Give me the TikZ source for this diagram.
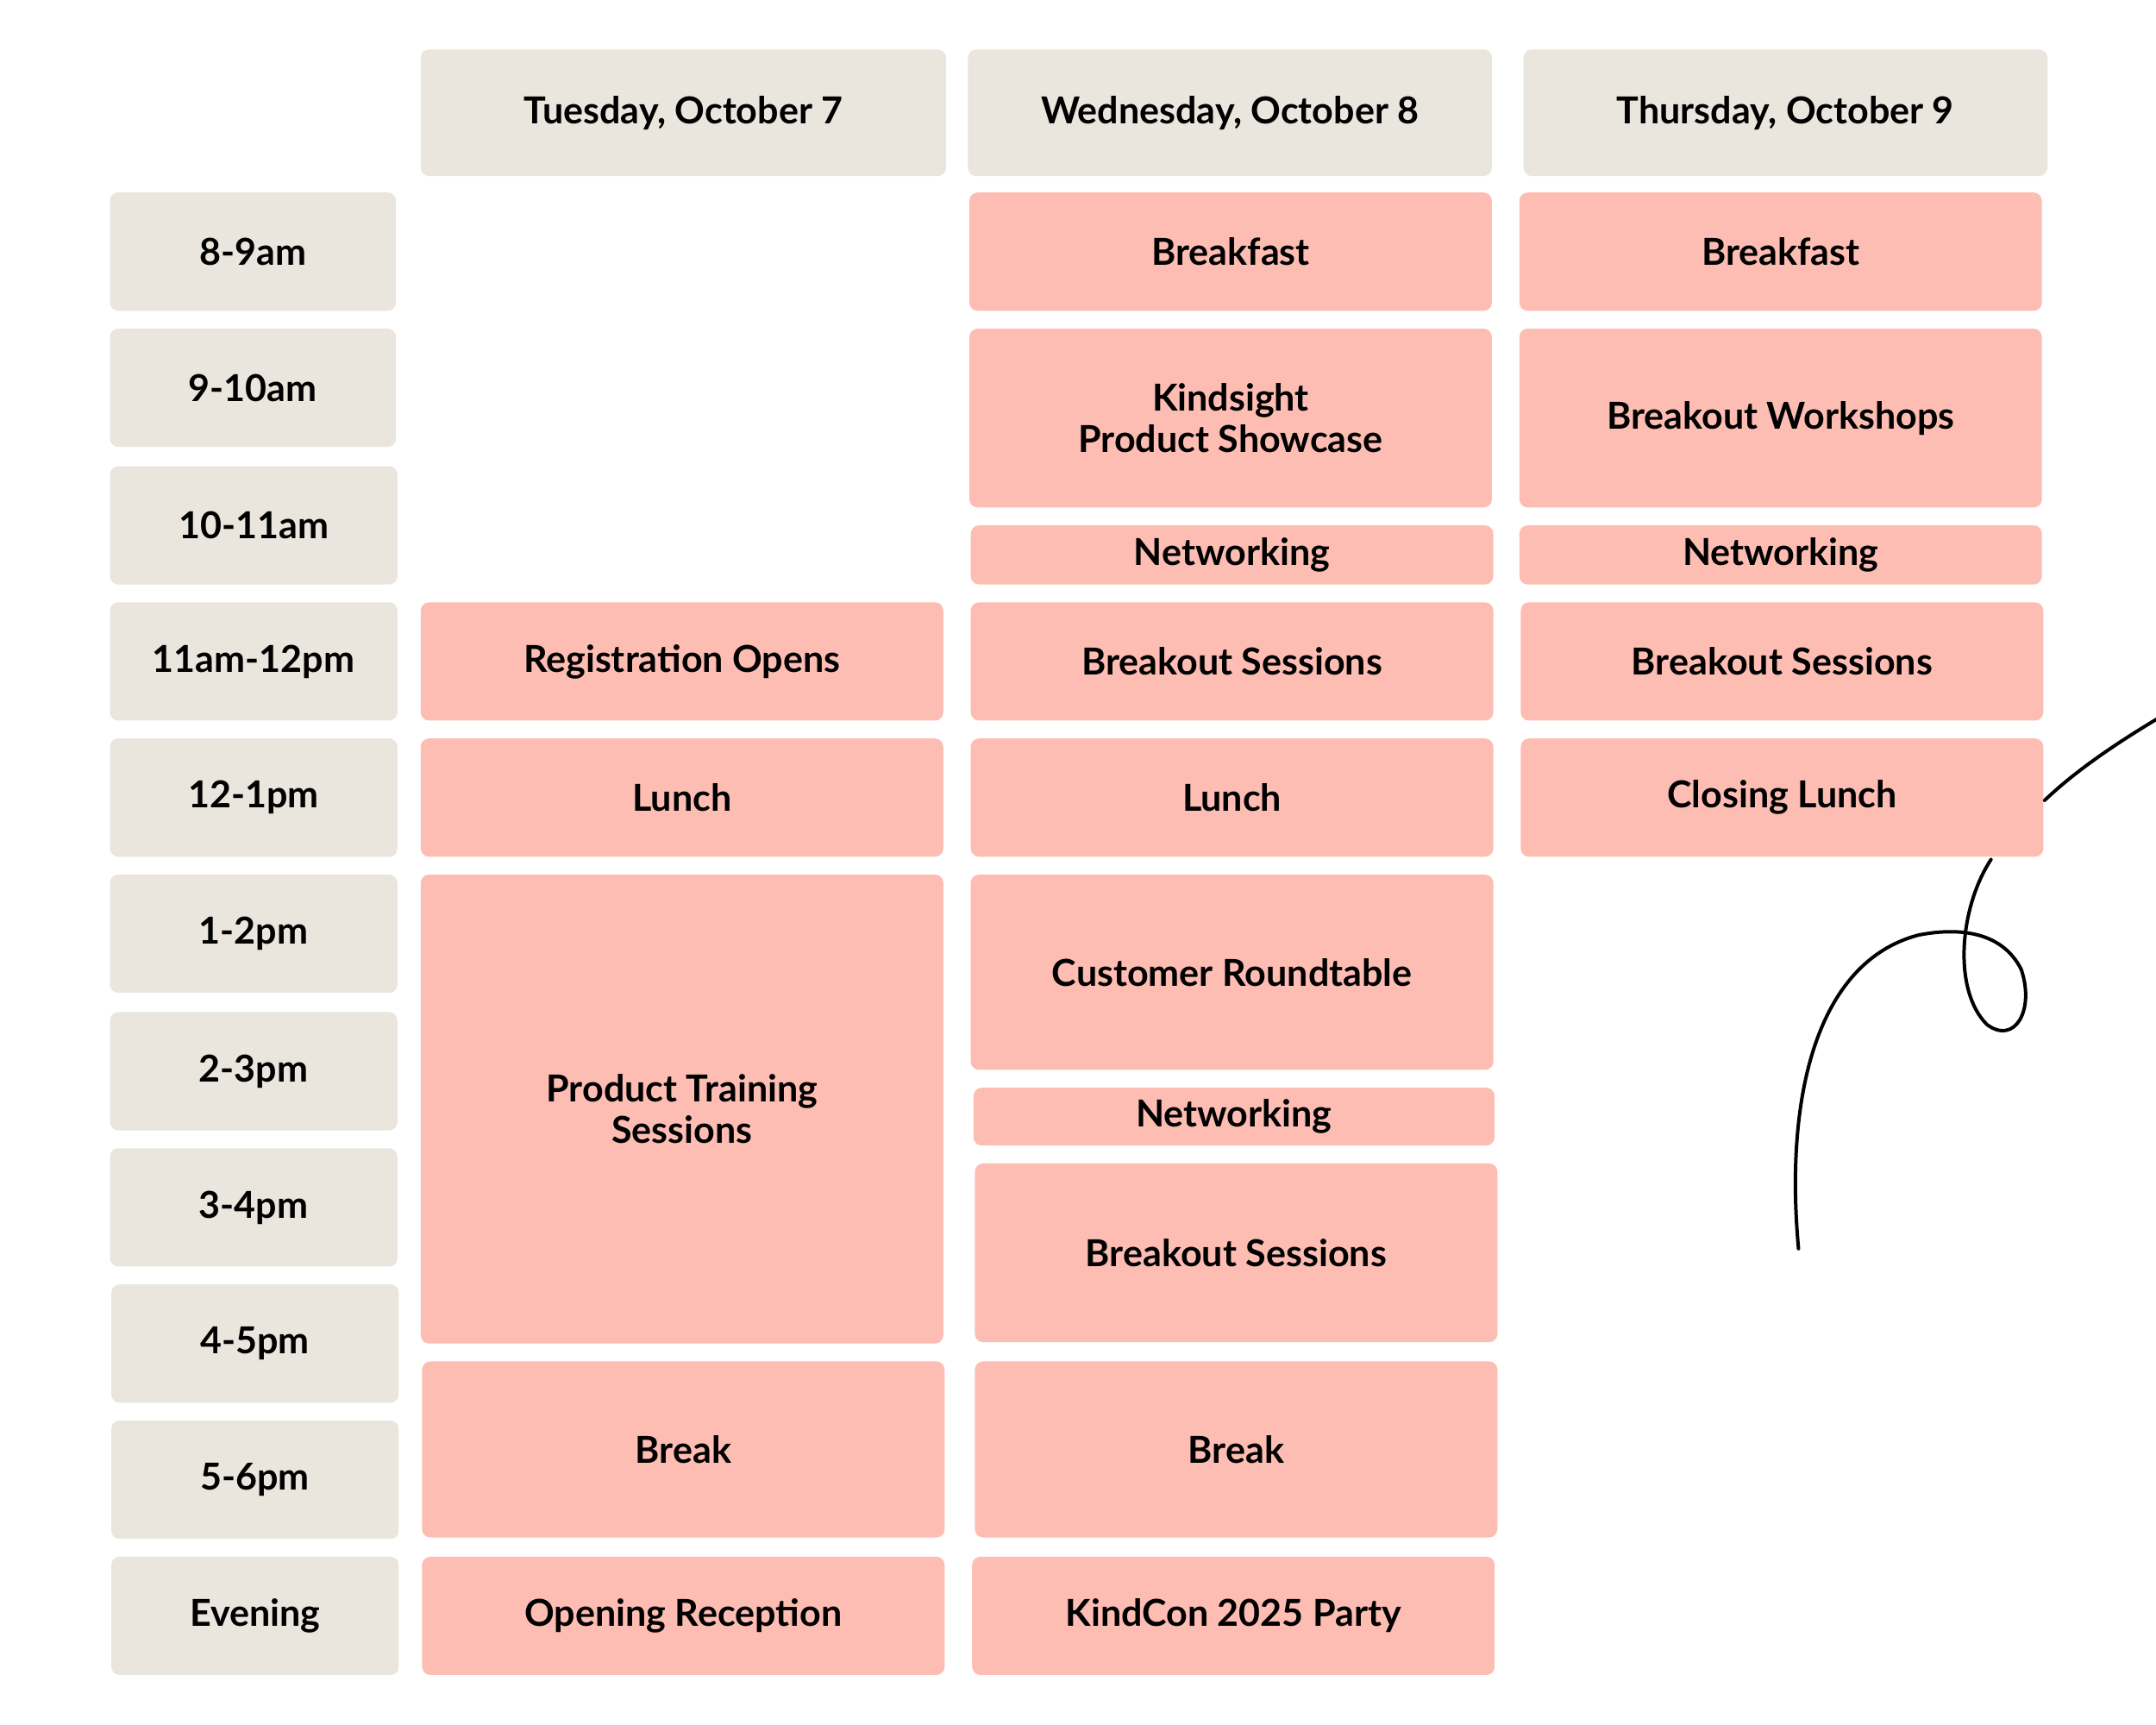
\documentclass[tikz,border=0pt]{standalone}
\usepackage{fontspec}
\setmainfont{Lato}
\tikzset{
 cellbox/.style={rounded corners=6pt, inner sep=0pt, align=center, font=\fontsize{27}{30}\selectfont\bfseries, text=black},
}
\definecolor{beige}{HTML}{EAE5DD}
\definecolor{pinkc}{HTML}{FDBDB3}
\newcommand{\cell}[7]{% name, color, x1,y1,x2,y2, text
 \fill[#2, rounded corners=6pt] (#3,#4) rectangle (#5,#6);
 \node[cellbox] (#1) at ({(#3+#5)/2},{(#4+#6)/2}) {#7};}
\begin{document}
\begin{tikzpicture}[x=1pt,y=-1pt]
\useasboundingbox (0,0) rectangle (1568,1254);
\fill[white] (0,0) rectangle (1568,1254);
% headers
\cell{h1}{beige}{306}{36}{688}{128}{Tuesday, October 7}
\cell{h2}{beige}{704}{36}{1085}{128}{Wednesday, October 8}
\cell{h3}{beige}{1108}{36}{1489}{128}{Thursday, October 9}
% times
\cell{t1}{beige}{80}{140}{288}{226}{8-9am}
\cell{t2}{beige}{80}{239}{288}{325}{9-10am}
\cell{t3}{beige}{80}{339}{289}{425}{10-11am}
\cell{t4}{beige}{80}{438}{289}{524}{11am-12pm}
\cell{t5}{beige}{80}{537}{289}{623}{12-1pm}
\cell{t6}{beige}{80}{636}{289}{722}{1-2pm}
\cell{t7}{beige}{80}{736}{289}{822}{2-3pm}
\cell{t8}{beige}{80}{835}{289}{921}{3-4pm}
\cell{t9}{beige}{81}{934}{290}{1020}{4-5pm}
\cell{t10}{beige}{81}{1033}{290}{1119}{5-6pm}
\cell{t11}{beige}{81}{1132}{290}{1218}{Evening}
% Tuesday
\cell{a1}{pinkc}{306}{438}{686}{524}{Registration Opens}
\cell{a2}{pinkc}{306}{537}{686}{623}{Lunch}
\cell{a3}{pinkc}{306}{636}{686}{977}{Product Training\\Sessions}
\cell{a4}{pinkc}{307}{990}{687}{1118}{Break}
\cell{a5}{pinkc}{307}{1132}{687}{1218}{Opening Reception}
% Wednesday
\cell{b1}{pinkc}{705}{140}{1085}{226}{Breakfast}
\cell{b2}{pinkc}{705}{239}{1085}{369}{Kindsight\\Product Showcase}
\cell{b3}{pinkc}{706}{382}{1086}{425}{Networking}
\cell{b4}{pinkc}{706}{438}{1086}{524}{Breakout Sessions}
\cell{b5}{pinkc}{706}{537}{1086}{623}{Lunch}
\cell{b6}{pinkc}{706}{636}{1086}{778}{Customer Roundtable}
\cell{b7}{pinkc}{708}{791}{1087}{833}{Networking}
\cell{b8}{pinkc}{709}{846}{1089}{976}{Breakout Sessions}
\cell{b9}{pinkc}{709}{990}{1089}{1118}{Break}
\cell{b10}{pinkc}{707}{1132}{1087}{1218}{KindCon 2025 Party}
% Thursday
\cell{c1}{pinkc}{1105}{140}{1485}{226}{Breakfast}
\cell{c2}{pinkc}{1105}{239}{1485}{369}{Breakout Workshops}
\cell{c3}{pinkc}{1105}{382}{1485}{425}{Networking}
\cell{c4}{pinkc}{1106}{438}{1486}{524}{Breakout Sessions}
\cell{c5}{pinkc}{1106}{537}{1486}{623}{Closing Lunch}
% squiggle
\draw[line width=2.5pt, line cap=round]
 (1570,522) .. controls (1540,540) and (1510,560) .. (1487,582);
\draw[line width=2.5pt, line cap=round]
 (1448,625) .. controls (1425,660) and (1420,720) .. (1445,745)
 .. controls (1465,760) and (1480,735) .. (1470,705)
 .. controls (1455,675) and (1420,675) .. (1395,680)
 .. controls (1320,700) and (1298,800) .. (1308,908);
\end{tikzpicture}
\end{document}
